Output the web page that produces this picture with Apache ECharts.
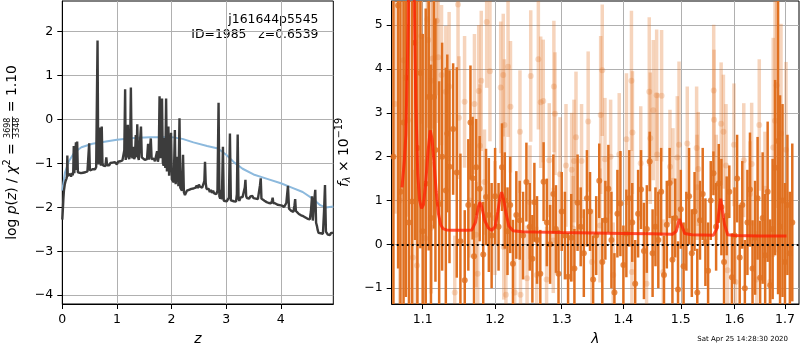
<!DOCTYPE html>
<html>
<head>
<meta charset="utf-8">
<script src="https://cdn.jsdelivr.net/npm/echarts@6/dist/echarts.min.js"></script>
<style>
  html, body { margin: 0; padding: 0; background: #fff; }
  #chart { width: 800px; height: 350px; }
</style>
</head>
<body>
<div id="chart"></div>
<script>
// ---------- redshift panel: log p(z) ----------
const zTicks = [0, 1, 2, 3, 4];
const logPTicks = [-4, -3, -2, -1, 0, 1, 2];

const zGrid = [0.000,0.010,0.020,0.030,0.045,0.060,0.075,0.085,0.092,0.100,0.115,0.130,0.145,0.160,0.175,0.190,0.200,0.210,0.220,0.235,0.250,0.262,0.272,0.285,0.300,0.320,0.340,0.360,0.380,0.400,0.420,0.440,0.460,0.480,0.492,0.505,0.520,0.540,0.560,0.580,0.600,0.620,0.632,0.645,0.658,0.670,0.683,0.695,0.708,0.722,0.735,0.750,0.770,0.790,0.805,0.820,0.840,0.860,0.880,0.900,0.920,0.940,0.960,0.980,1.000,1.020,1.040,1.060,1.080,1.100,1.120,1.135,1.150,1.160,1.175,1.190,1.200,1.210,1.225,1.240,1.255,1.270,1.285,1.300,1.315,1.330,1.345,1.360,1.372,1.385,1.400,1.420,1.440,1.455,1.470,1.490,1.510,1.530,1.550,1.570,1.585,1.600,1.620,1.635,1.655,1.675,1.695,1.715,1.735,1.750,1.765,1.780,1.795,1.810,1.825,1.840,1.855,1.870,1.885,1.900,1.915,1.930,1.942,1.955,1.970,1.990,2.005,2.020,2.040,2.060,2.075,2.090,2.110,2.125,2.145,2.160,2.175,2.190,2.210,2.225,2.245,2.260,2.280,2.300,2.320,2.340,2.360,2.380,2.400,2.420,2.440,2.460,2.480,2.500,2.520,2.540,2.560,2.580,2.600,2.612,2.625,2.640,2.660,2.680,2.700,2.720,2.740,2.760,2.780,2.800,2.820,2.840,2.860,2.875,2.890,2.905,2.920,2.940,2.955,2.970,2.990,3.010,3.030,3.050,3.068,3.085,3.100,3.120,3.140,3.160,3.180,3.195,3.210,3.225,3.240,3.260,3.280,3.300,3.320,3.340,3.352,3.365,3.380,3.400,3.420,3.440,3.460,3.480,3.500,3.520,3.540,3.560,3.580,3.600,3.618,3.632,3.645,3.660,3.680,3.700,3.720,3.740,3.760,3.780,3.800,3.820,3.840,3.850,3.862,3.880,3.900,3.920,3.940,3.960,3.980,4.000,4.020,4.040,4.060,4.080,4.100,4.130,4.150,4.170,4.190,4.210,4.230,4.250,4.262,4.275,4.290,4.310,4.330,4.350,4.370,4.390,4.410,4.430,4.450,4.470,4.490,4.510,4.530,4.550,4.570,4.585,4.600,4.630,4.645,4.660,4.675,4.690,4.710,4.730,4.750,4.770,4.790,4.808,4.825,4.840,4.860,4.880,4.900,4.920,4.940,4.960];
const logPz = [-2.28,-2.05,-1.80,-1.62,-1.48,-1.40,-1.35,-1.30,-0.82,-1.28,-1.25,-1.32,-1.24,-1.30,-1.22,-1.27,-1.20,-0.60,-1.22,-1.18,-0.52,-1.15,-0.50,-1.20,-1.24,-1.19,-1.22,-1.18,-1.21,-1.17,-1.20,-1.16,-1.18,-1.15,-0.54,-1.16,-1.12,-1.16,-1.13,-1.10,-1.13,-1.08,-1.05,1.80,-1.02,-0.90,-0.18,-0.95,-1.05,-0.16,-1.00,-1.05,-1.02,-1.06,-0.86,-1.04,-1.00,-1.04,-0.99,-1.02,-0.98,-1.01,-0.97,-1.00,-1.02,-0.96,-0.99,-0.95,-0.97,-0.93,-0.95,-0.70,0.69,-0.92,-0.88,-0.55,-0.12,-0.85,-0.90,-0.82,0.73,-0.80,-0.88,-0.62,-0.90,-0.85,-0.35,-0.86,-0.11,-0.84,-0.92,-0.88,-0.16,-0.86,-0.90,-0.87,-0.92,-0.88,-0.90,-0.55,-0.91,-0.88,-0.43,-0.90,-0.93,-0.89,-0.95,-0.92,-0.72,-0.96,-0.85,0.53,-0.88,-0.70,0.48,-0.98,-1.05,-0.42,-1.10,0.48,-1.18,-1.22,-0.16,-1.28,-1.32,-0.30,-1.36,-1.40,-1.43,-0.24,-1.47,-1.50,-0.85,-1.52,0.03,-1.55,-1.58,-1.62,-0.80,-1.65,-1.72,-1.68,-1.62,-1.66,-1.60,-1.64,-1.58,-1.62,-1.57,-1.60,-1.55,-1.50,-1.56,-1.48,-1.53,-1.50,-1.55,-1.58,-1.40,-0.96,-1.45,-1.58,-1.62,-1.58,-1.65,-1.60,-1.67,-1.62,-1.68,-1.64,-1.70,-1.62,0.38,-1.75,-1.80,-1.60,-1.82,-0.62,-1.85,-1.88,-1.82,-1.86,-1.90,-1.78,-0.32,-1.84,-1.88,-1.80,-1.86,-1.82,-1.87,-1.70,-0.34,-1.80,-1.85,-1.78,-1.82,-1.76,-1.80,-1.55,-1.37,-1.74,-1.79,-1.76,-1.80,-1.75,-1.78,-1.74,-1.79,-1.76,-1.80,-1.77,-1.81,-1.78,-1.50,-1.34,-1.80,-1.83,-1.80,-1.85,-1.83,-1.88,-1.86,-1.90,-1.87,-1.91,-1.84,-1.78,-1.90,-1.93,-1.91,-1.95,-1.94,-1.97,-1.95,-1.98,-1.96,-2.00,-1.99,-2.02,-1.90,-1.51,-2.03,-2.05,-2.08,-2.06,-2.10,-1.95,-1.81,-2.08,-2.12,-2.10,-2.15,-2.14,-2.18,-2.17,-2.20,-2.19,-2.23,-2.22,-2.26,-2.28,-2.27,-2.10,-1.75,-2.30,-2.00,-1.60,-2.35,-2.42,-2.52,-2.58,-2.56,-2.59,-2.57,-2.60,-2.10,-1.49,-2.55,-2.58,-2.62,-2.60,-2.63,-2.58,-2.61,-2.58];

const zSmooth = [0.00,0.05,0.12,0.22,0.35,0.55,0.80,1.00,1.30,1.60,2.00,2.20,2.40,2.65,2.85,3.00,3.15,3.30,3.50,3.75,4.00,4.20,4.40,4.58,4.72,4.82,4.96];
const logPzSmooth = [-1.62,-1.20,-0.95,-0.75,-0.63,-0.55,-0.50,-0.46,-0.42,-0.40,-0.40,-0.44,-0.52,-0.60,-0.66,-0.80,-0.98,-1.12,-1.25,-1.35,-1.45,-1.55,-1.65,-1.80,-1.95,-2.00,-1.98];

// ---------- spectrum panel ----------
const lamTicks = [1.1, 1.2, 1.3, 1.4, 1.5, 1.6, 1.7];
const fluxTicks = [-1, 0, 1, 2, 3, 4, 5];

const darkWave = [1.062,1.068,1.071,1.075,1.078,1.082,1.086,1.090,1.093,1.097,1.100,1.104,1.108,1.111,1.115,1.117,1.122,1.126,1.131,1.133,1.136,1.141,1.146,1.151,1.157,1.162,1.165,1.168,1.170,1.173,1.178,1.183,1.187,1.191,1.195,1.200,1.205,1.210,1.214,1.218,1.222,1.226,1.231,1.236,1.241,1.246,1.251,1.255,1.258,1.262,1.267,1.272,1.277,1.282,1.287,1.291,1.295,1.300,1.305,1.310,
  1.315,1.320,1.325,1.330,1.335,1.340,1.345,1.350,1.355,1.360,1.365,1.370,1.375,1.380,1.385,1.390,1.395,1.400,1.405,1.410,1.415,1.420,1.425,1.430,1.435,1.440,1.445,1.450,1.455,1.460,1.465,1.470,1.475,1.480,1.485,1.490,1.495,1.500,1.505,1.510,1.515,1.520,1.525,1.530,1.535,1.540,1.545,1.550,1.555,1.560,1.565,1.570,1.575,1.580,1.585,1.590,1.595,1.600,1.605,1.610,1.615,1.620,1.625,1.630,1.635,1.640,1.645,1.650,1.655,1.660,1.665,1.670,1.675,1.680,
  1.686,1.690,1.695,1.700,1.705,1.710,1.715];
const darkFlux = [2.0,5.45,1.2,2.78,3.8,0.5,0.98,4.6,2.2,3.91,0.3,1.38,3.36,0.6,3.36,2.15,0.92,2.0,1.23,2.53,1.77,2.63,1.64,0.07,-0.82,0.9,2.78,1.51,-0.27,1.76,1.27,-0.23,1.08,0.67,0.2,1.1,0.4,1.76,1.0,0.3,0.9,-0.44,0.67,0.55,0.2,1.42,0.4,-0.33,0.96,0.1,-0.67,1.43,0.5,0.0,1.15,0.35,-0.67,0.75,0.2,-0.74,
  0.15,-0.55,0.95,0.40,-0.20,1.05,0.75,-0.80,0.20,1.45,
  -0.40,0.55,1.27,0.10,-1.10,0.70,0.93,-0.47,0.25,1.05,
  0.50,-0.90,0.70,1.25,-0.15,0.35,1.89,-0.20,0.40,0.10,
  1.20,-0.70,0.45,1.40,-0.35,0.60,-1.03,0.80,-0.50,0.30,
  1.10,-0.20,0.75,-1.10,0.55,1.15,0.05,-0.60,1.00,1.62,
  0.40,1.39,0.85,-0.40,0.65,1.20,-0.75,0.20,1.50,-0.30,
  0.90,-1.00,0.50,1.25,-0.55,0.15,1.05,-0.76,0.60,-0.25,
  1.20,-0.93,0.35,1.75,
  2.36,0.40,1.00,-0.40,0.90,-0.20,0.50];
const darkErr = [6.0,6.0,5.5,5.0,5.0,5.5,5.0,4.5,4.5,4.0,4.5,4.0,3.5,3.5,3.0,3.0,2.8,2.6,2.8,1.8,2.2,1.5,2.4,2.0,1.6,1.5,1.3,1.4,1.2,1.1,1.2,1.2,1.1,1.3,1.2,1.1,1.0,1.0,1.1,1.0,1.1,1.0,1.0,0.9,1.0,0.9,1.0,1.0,0.9,1.0,1.0,0.9,1.0,0.9,0.9,1.0,1.0,0.9,1.0,1.0,
  1.0,0.9,1.1,0.9,1.0,1.1,0.9,1.0,0.9,0.85,
  1.0,0.9,1.0,1.1,0.9,1.0,1.2,0.9,1.0,1.1,
  0.9,1.0,1.0,0.9,1.1,1.0,0.68,1.0,0.9,1.1,
  1.0,0.9,1.0,0.8,1.0,0.9,1.1,0.9,1.0,0.9,
  1.1,1.0,0.9,1.0,0.9,1.05,1.0,1.1,0.9,0.5,
  1.0,0.9,1.1,1.0,0.9,0.6,1.0,1.1,1.0,1.2,
  1.0,1.1,1.2,1.3,1.1,1.3,1.4,1.3,1.5,1.4,
  1.6,1.5,1.6,2.0,
  3.5,3.0,2.2,1.8,1.6,1.4,1.8];

const lightWave = [1.064,1.070,1.075,1.0807,1.087,1.0925,1.0982,1.1034,1.1061,1.1074,1.111,1.1114,1.1132,1.1186,1.1207,1.1252,1.131,1.1355,1.1432,1.1477,1.149,1.1568,1.164,1.1706,1.1729,1.1752,1.1766,1.1784,1.1802,1.1848,1.1879,1.1926,1.1998,1.2081,1.2118,1.2125,1.2135,1.2157,1.2188,1.2224,1.2286,1.2364,1.2372,1.2470,1.2514,1.2525,1.2615,1.264,1.2676,1.2715,1.2766,1.2807,1.2869,1.2878,1.2895,1.2973,1.3067,1.3156,1.318,1.3193,1.3225,1.3314,1.342,1.348,1.3612,1.3623,1.3649,1.3693,1.3787,1.383,1.393,1.4052,1.4136,1.4143,1.4153,1.4295,1.4395,1.4442,1.446,1.4512,1.4571,1.458,1.4658,1.4687,1.4806,1.486,1.4937,1.4968,1.5117,1.5288,1.5295,1.5318,1.5605,1.5611,1.5654,1.5745,1.5788,1.5837,1.5867,1.5989,1.602,1.6179,1.630,1.6333,1.6431,1.6483,1.6596,1.6696,1.6762,1.6797,1.6831,1.6919,1.7021];
const lightFlux = [3.2,1.0,4.2,2.83,-0.3,-0.48,4.75,0.14,5.13,4.66,3.73,0.38,4.24,5.1,4.27,3.86,3.48,3.6,-1.1,5.47,2.89,3.25,1.0,3.2,0.22,-0.67,3.5,2.25,3.73,1.42,5.07,3.95,0.6,3.58,3.86,-0.06,2.72,-1.15,4.05,3.14,-1.1,2.57,-1.15,-0.77,0.96,3.84,-0.7,4.22,3.24,3.27,-0.8,1.92,0.09,3.6,2.98,1.6,1.8,1.7,0.36,1.9,2.44,1.9,2.8,-0.4,0.43,2.95,3.97,1.94,2.0,-0.7,2.05,2.4,3.73,-0.63,2.55,1.85,-0.9,3.48,2.42,3.06,3.4,2.05,3.39,-0.63,1.77,1.45,1.98,2.27,2.3,2.2,1.3,1.72,3.51,2.84,1.3,2.75,2.57,1.8,-0.59,2.27,-0.86,1.92,1.15,1.83,-0.8,2.72,1.27,-0.86,2.21,2.82,3.63,2.53,2.16];
const lightErr = [2.5,3.0,2.5,2.2,2.0,1.8,2.0,1.8,1.8,2.0,1.8,1.5,1.6,1.7,1.5,1.6,1.5,1.7,1.3,1.5,1.4,1.5,1.3,1.6,1.2,1.3,1.5,1.4,1.6,1.2,1.5,1.6,1.3,1.5,1.4,1.2,1.5,1.1,1.6,1.5,1.2,1.4,1.1,1.2,1.3,1.5,1.1,1.6,1.5,1.4,1.2,1.3,1.2,1.5,1.4,1.3,1.4,1.3,1.2,1.4,1.5,1.3,1.6,1.2,1.3,1.8,1.5,1.4,1.3,1.2,1.4,1.5,1.6,1.2,1.4,1.3,1.1,1.7,1.5,1.6,1.5,1.4,1.5,1.2,1.3,1.2,1.4,1.9,1.3,1.4,1.2,1.3,1.5,1.6,1.2,1.4,1.3,1.4,1.2,1.4,1.1,1.3,1.2,1.4,1.1,1.5,1.3,1.2,2.5,3.0,2.8,2.5,2.0];

const modelWave = [1.073,1.076,1.078,1.081,1.083,1.0848,1.087,1.089,1.091,1.0935,1.096,1.0985,1.101,1.104,1.107,1.110,1.1125,1.115,1.118,1.121,1.124,1.127,1.132,1.140,1.150,1.160,1.167,1.172,1.176,1.1784,1.181,1.185,1.190,1.195,1.200,1.204,1.2075,1.2095,1.212,1.216,1.220,1.226,1.240,1.260,1.300,1.350,1.400,1.450,1.485,1.492,1.4972,1.502,1.507,1.520,1.560,1.566,1.5736,1.581,1.587,1.600,1.650,1.703];
const modelFlux = [1.3,1.9,2.5,5.0,9.0,12.0,8.0,5.5,3.2,1.6,1.0,0.82,0.9,1.4,2.1,2.6,2.4,1.9,1.2,0.7,0.45,0.36,0.33,0.32,0.32,0.32,0.33,0.5,0.85,0.96,0.85,0.55,0.38,0.32,0.4,0.75,1.1,1.19,1.05,0.7,0.42,0.31,0.29,0.28,0.27,0.26,0.25,0.24,0.23,0.3,0.58,0.42,0.25,0.22,0.21,0.35,1.04,0.45,0.22,0.2,0.19,0.19];

const lamRange = [1.0598, 1.7289];
const FONT = 'DejaVu Sans';
const lg = Math.log10;

const DARK = 'rgb(224,112,32)';
const LIGHT = 'rgba(224,112,32,0.3)';

// ---------- text helpers ----------
const measureCtx = document.createElement('canvas').getContext('2d');
function textWidth(str, size, italic) {
  measureCtx.font = (italic ? 'italic ' : '') + size + 'px "' + FONT + '"';
  return measureCtx.measureText(str).width;
}
function txt(x, y, text, size, italic, align) {
  return {
    type: 'text', x: x, y: y, silent: true,
    style: { text: text, fontSize: size, fontFamily: FONT, fontStyle: italic ? 'italic' : 'normal',
             fill: '#000', align: align || 'left', verticalAlign: 'middle' }
  };
}
// rotated (bottom-to-top) label built from math-like pieces
function mathLabel(cx, cy, parts) {
  const kids = [];
  let cursor = 0;
  parts.forEach(p => {
    if (p.frac) {
      const w = Math.max(textWidth(p.num, p.size), textWidth(p.den, p.size)) + 2;
      kids.push(txt(cursor + w / 2, p.numY, p.num, p.size, false, 'center'));
      kids.push(txt(cursor + w / 2, p.denY, p.den, p.size, false, 'center'));
      kids.push({ type: 'rect', silent: true, shape: { x: cursor, y: -0.4, width: w, height: 0.8 }, style: { fill: '#000' } });
      cursor += w;
    } else {
      const size = p.size || 13.9;
      kids.push(txt(cursor, p.dy || 0, p.text, size, p.italic));
      cursor += textWidth(p.text, size, p.italic);
    }
  });
  kids.forEach(k => { if (k.type === 'rect') k.shape.x -= cursor / 2; else k.x -= cursor / 2; });
  return { type: 'group', x: cx, y: cy, rotation: Math.PI / 2, silent: true, children: kids };
}

const minus = v => String(v).replace('-', '\u2212');

// ---------- error bars ----------
function errorBars(wave, flux, err, color, width) {
  const data = [];
  for (let i = 0; i < wave.length; i++) {
    if (flux[i] === undefined || err[i] === undefined) continue;
    data.push([lg(wave[i]), flux[i] - err[i], flux[i] + err[i]]);
  }
  return {
    type: 'custom', xAxisIndex: 1, yAxisIndex: 1, silent: true, clip: true,
    encode: { x: 0, y: [1, 2] }, data: data,
    renderItem: function (params, api) {
      const cs = params.coordSys;
      const a = api.coord([api.value(0), api.value(1)]);
      const b = api.coord([api.value(0), api.value(2)]);
      if (a[0] < cs.x || a[0] > cs.x + cs.width) return null;
      const clampY = y => Math.min(Math.max(y, cs.y), cs.y + cs.height);
      return { type: 'line', shape: { x1: a[0], y1: clampY(a[1]), x2: a[0], y2: clampY(b[1]) },
               style: { stroke: color, lineWidth: width } };
    }
  };
}
function points(wave, flux, color) {
  const data = [];
  for (let i = 0; i < wave.length; i++) if (flux[i] !== undefined) data.push([lg(wave[i]), flux[i]]);
  return { type: 'scatter', xAxisIndex: 1, yAxisIndex: 1, silent: true, clip: true,
           symbol: 'circle', symbolSize: 6, itemStyle: { color: color }, data: data };
}

// ---------- axes ----------
function valueAxis(gridIndex, min, max, ticks, fmt) {
  return {
    type: 'value', gridIndex: gridIndex, min: min, max: max,
    axisLine: { show: true, onZero: false, lineStyle: { color: '#000', width: 1 } },
    axisTick: { show: true, inside: false, length: 5, customValues: ticks, lineStyle: { color: '#000', width: 1 } },
    axisLabel: { show: true, customValues: ticks, margin: 9, fontSize: 12.5, fontFamily: FONT, color: '#000', formatter: fmt },
    splitLine: { show: true, lineStyle: { color: '#b0b0b0', width: 1 } }
  };
}

const chart = echarts.init(document.getElementById('chart'), null, { renderer: 'canvas' });

const option = {
  animation: false,
  backgroundColor: '#fff',
  grid: [
    { left: 62.3, top: 1, width: 271, height: 303, show: true, borderColor: '#000', borderWidth: 1, outerBoundsMode: 'none' },
    { left: 391.7, top: 1, width: 407.3, height: 303, show: true, borderColor: '#000', borderWidth: 1, outerBoundsMode: 'none' }
  ],
  xAxis: [
    valueAxis(0, 0, 4.96, zTicks, v => minus(v)),
    valueAxis(1, lg(lamRange[0]), lg(lamRange[1]), lamTicks.map(lg), v => Math.pow(10, v).toFixed(1))
  ],
  yAxis: [
    valueAxis(0, -4.2, 2.7, logPTicks, v => minus(v)),
    valueAxis(1, -1.36, 5.55, fluxTicks, v => minus(v))
  ],
  series: [
    { type: 'line', xAxisIndex: 0, yAxisIndex: 0, showSymbol: false, silent: true, clip: true,
      lineStyle: { color: '#8cb9dd', width: 2 }, data: zSmooth.map((z, i) => [z, logPzSmooth[i]]) },
    { type: 'line', xAxisIndex: 0, yAxisIndex: 0, showSymbol: false, silent: true, clip: true,
      lineStyle: { color: '#3c3c3c', width: 2.4 }, data: zGrid.map((z, i) => [z, logPz[i]]) },

    errorBars(lightWave, lightFlux, lightErr, LIGHT, 3.5),
    points(lightWave, lightFlux, LIGHT),
    errorBars(darkWave, darkFlux, darkErr, DARK, 2.5),
    points(darkWave, darkFlux, DARK),
    { type: 'line', xAxisIndex: 1, yAxisIndex: 1, showSymbol: false, silent: true, clip: true,
      lineStyle: { color: 'rgba(255,30,0,0.75)', width: 3 },
      data: modelWave.map((w, i) => [lg(w), modelFlux[i]]),
      markLine: { silent: true, symbol: 'none', label: { show: false },
                  lineStyle: { color: '#000', type: [2, 3], width: 2 }, data: [{ yAxis: 0 }] } }
  ],
  graphic: [
    txt(318.5, 20, 'j161644p5545', 12.4, false, 'right'),
    txt(318.5, 34.5, 'ID=1985   z=0.6539', 12.4, false, 'right'),
    txt(197.8, 339, 'z', 13.9, true, 'center'),
    txt(595.3, 339, '\u03bb', 13.9, true, 'center'),
    txt(788, 339.5, 'Sat Apr 25 14:28:30 2020', 7, false, 'right'),
    mathLabel(12.5, 152.5, [
      { text: 'log ' }, { text: 'p', italic: true }, { text: '(' }, { text: 'z', italic: true }, { text: ') / ' },
      { text: '\u03c7', italic: true }, { text: '2', size: 9.7, dy: -5 }, { text: ' = ' },
      { frac: true, num: '3698', den: '3348', size: 8, numY: -4.5, denY: 4.5 },
      { text: ' = 1.10' }
    ]),
    mathLabel(344, 152.5, [
      { text: 'f', italic: true }, { text: '\u03bb', italic: true, size: 9.7, dy: 3.5 },
      { text: ' \u00d7 10' }, { text: '\u221219', size: 9.7, dy: -5 }
    ])
  ]
};

chart.setOption(option);
</script>
</body>
</html>
